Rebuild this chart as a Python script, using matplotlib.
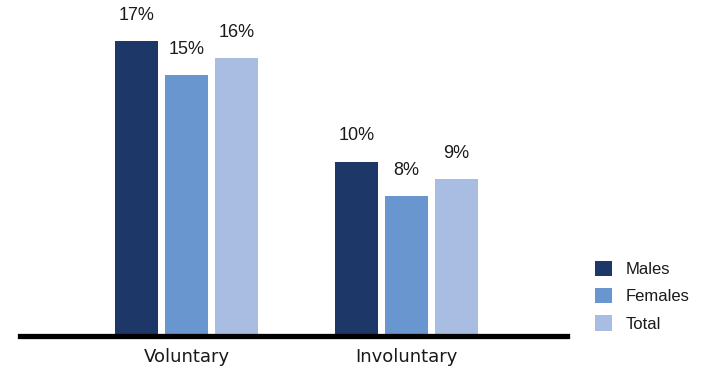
import matplotlib.pyplot as plt
import numpy as np

plt.rcParams['font.family'] = ['Liberation Sans', 'DejaVu Sans']

groups = ["Voluntary", "Involuntary"]
series = ["Males", "Females", "Total"]
values = {
    "Males": [17, 10],
    "Females": [15, 8],
    "Total": [16, 9],
}
colors = {"Males": "#1d3868", "Females": "#6a96cf", "Total": "#a9bce2"}

fig = plt.figure(figsize=(7.09, 3.70), dpi=100)
ax = fig.add_axes([20 / 709, 36 / 370, 547 / 709, 334 / 370])

x = np.arange(len(groups))
width = 0.195
step = 0.227

for i, s in enumerate(series):
    pos = x + (i - 1) * step
    bars = ax.bar(pos, values[s], width, color=colors[s], label=s)
    for b, v in zip(bars, values[s]):
        ax.annotate(f"{v}%", (b.get_x() + b.get_width() / 2, v),
                    xytext=(0, 18.5), textcoords="offset points",
                    ha="center", va="center", fontsize=13, color="#1a1a1a")

ax.set_xlim(-0.757, -0.757 + 547 / 220)
ax.set_ylim(0, 334 / 17.24)
ax.set_xticks(x, groups)
ax.tick_params(axis="x", length=0, pad=8.5, labelsize=13,
               labelfontfamily="DejaVu Sans", labelcolor="#1a1a1a")
ax.set_yticks([])
for side in ["top", "right", "left"]:
    ax.spines[side].set_visible(False)
ax.spines["bottom"].set_position(("outward", 1.5))
ax.spines["bottom"].set_linewidth(3.8)
ax.spines["bottom"].set_color("black")

leg = fig.legend(loc="upper left", bbox_to_anchor=(588 / 709, 1 - 254 / 370),
                 frameon=False, fontsize=12, handlelength=1.05, handleheight=1.05,
                 handletextpad=0.8, labelspacing=0.65, borderaxespad=0)
for t in leg.get_texts():
    t.set_color("#1a1a1a")

fig.savefig("out.png", dpi=100)
